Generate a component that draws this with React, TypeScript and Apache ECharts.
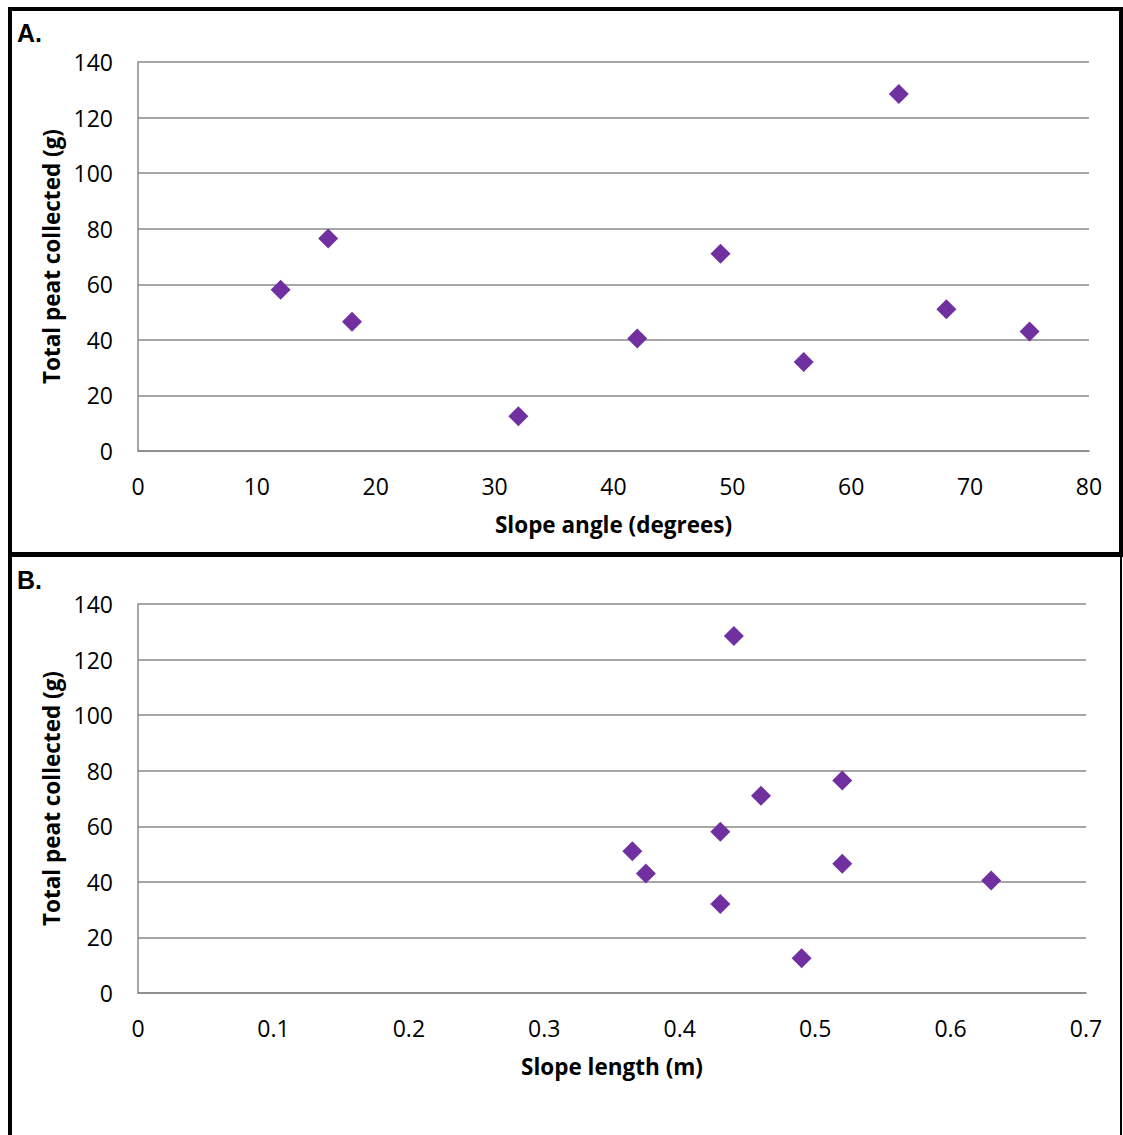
import React, { useEffect, useRef } from "react";
import * as echarts from "echarts";

const slopeAngle = [12, 16, 18, 32, 42, 49, 56, 64, 68, 75];
const slopeLength = [0.43, 0.52, 0.52, 0.49, 0.63, 0.46, 0.43, 0.44, 0.365, 0.375];
const peat = [58, 76.5, 46.5, 12.5, 40.5, 71, 32, 128.5, 51, 43];

const yTitle = "Total peat collected (g)";
const xTitleA = "Slope angle (degrees)";
const xTitleB = "Slope length (m)";
const panelLabels = ["A.", "B."];

const PURPLE = "#7030A0";
const GRIDC = "#898989";
const TICKFONT = "'Open Sans', sans-serif";
const TITLEFONT = "'Open Sans', sans-serif";

export default function App() {
  const ref = useRef<HTMLDivElement>(null);
  useEffect(() => {
    if (!ref.current) return;
    const chart = echarts.init(ref.current, null, { renderer: "svg" });

    const yAxisBase = (gridIndex: number) => ({
      type: "value",
      gridIndex,
      min: 0,
      max: 140,
      interval: 20,
      name: yTitle,
      nameLocation: "middle",
      nameGap: 71,
      nameTextStyle: { fontFamily: TITLEFONT, fontWeight: "bold", fontSize: 22.5, color: "#000" },
      axisLine: { show: true, lineStyle: { color: GRIDC, width: 1.5 } },
      axisTick: { show: false },
      axisLabel: { fontFamily: TICKFONT, fontSize: 23, color: "#000", margin: 25 },
      splitLine: { show: true, lineStyle: { color: GRIDC, width: 1.5 } },
    });

    const xAxisBase = (gridIndex: number, max: number, interval: number, name: string, dec: number) => ({
      type: "value",
      gridIndex,
      min: 0,
      max,
      interval,
      name,
      nameLocation: "middle",
      nameGap: 62,
      nameTextStyle: { fontFamily: TITLEFONT, fontWeight: "bold", fontSize: 22.5, color: "#000" },
      axisLine: { show: true, onZero: false, lineStyle: { color: GRIDC, width: 1.5 } },
      axisTick: { show: false },
      axisLabel: {
        fontFamily: TICKFONT,
        fontSize: 23,
        color: "#000",
        margin: 23,
        formatter: (v: number) => (dec === 0 ? String(Math.round(v)) : v === 0 ? "0" : v.toFixed(dec)),
      },
      splitLine: { show: false },
    });

    const lineEl = (x1: number, y1: number, x2: number, y2: number, w: number) => ({
      type: "line",
      shape: { x1, y1, x2, y2 },
      style: { stroke: "#000", lineWidth: w },
      z: 100,
    });

    const scatterStyle = { color: PURPLE, opacity: 1 };

    chart.setOption({
      animation: false,
      backgroundColor: "#fff",
      grid: [
        { left: 138, top: 62, width: 951, height: 389 },
        { left: 138, top: 604, width: 948, height: 389 },
      ],
      xAxis: [
        xAxisBase(0, 80, 10, xTitleA, 0),
        xAxisBase(1, 0.7, 0.1, xTitleB, 1),
      ],
      yAxis: [yAxisBase(0), yAxisBase(1)],
      series: [
        {
          type: "scatter",
          xAxisIndex: 0,
          yAxisIndex: 0,
          symbol: "diamond",
          symbolSize: 20,
          itemStyle: scatterStyle,
          data: slopeAngle.map((x, i) => [x, peat[i]]),
        },
        {
          type: "scatter",
          xAxisIndex: 1,
          yAxisIndex: 1,
          symbol: "diamond",
          symbolSize: 20,
          itemStyle: scatterStyle,
          data: slopeLength.map((x, i) => [x, peat[i]]),
        },
      ],
      graphic: [
        lineEl(8, 9, 1123, 9, 4),
        lineEl(10, 7, 10, 1135, 4),
        lineEl(1121, 7, 1121, 555, 4),
        lineEl(8, 554.5, 1123, 554.5, 5),
        lineEl(1121, 555, 1121, 1135, 2),
        {
          type: "text",
          left: 17,
          top: 20,
          style: { text: panelLabels[0], font: "bold 25px 'Liberation Sans', Arial, sans-serif", fill: "#000" },
        },
        {
          type: "text",
          left: 17,
          top: 567,
          style: { text: panelLabels[1], font: "bold 25px 'Liberation Sans', Arial, sans-serif", fill: "#000" },
        },
      ],
    });
    return () => chart.dispose();
  }, []);
  return (
    <div
      ref={ref}
      style={{ position: "absolute", left: 0, top: 0, width: 1123, height: 1135, background: "#fff" }}
    />
  );
}
